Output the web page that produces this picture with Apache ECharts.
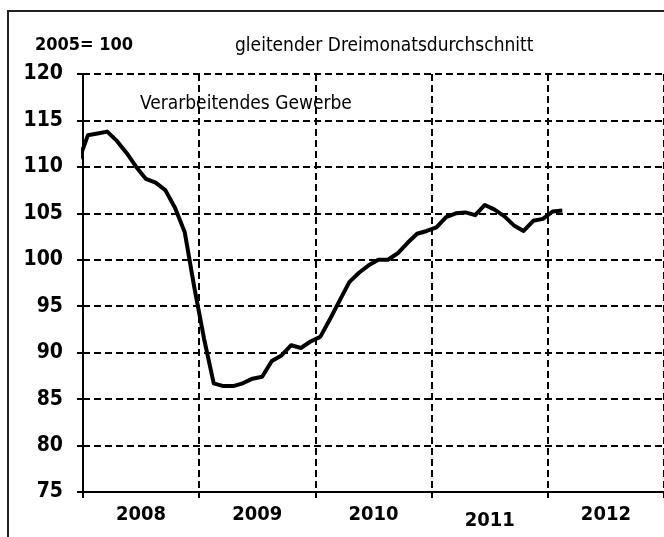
<!DOCTYPE html>
<html>
<head>
<meta charset="utf-8">
<script src="https://cdn.jsdelivr.net/npm/echarts@6/dist/echarts.min.js"></script>
<style>
  html, body { margin: 0; padding: 0; background: #fff; overflow: hidden; }
  #frame {
    position: absolute; left: 7px; top: 10px; width: 700px; height: 560px;
    border-left: 2px solid #222; border-top: 2px solid #222;
  }
  #chart { position: absolute; left: 0; top: 0; width: 664px; height: 537px; }
</style>
</head>
<body>
<div id="frame"></div>
<div id="chart"></div>
<script>
// Verarbeitendes Gewerbe, 2005 = 100, gleitender Dreimonatsdurchschnitt
// monthly values, first entry is Dec 2007 (only its segment into Jan 2008 is visible)
var firstMonth = -1; // month index relative to Jan 2008
var values = [
    110.5,
    113.4, 113.6, 113.8, 112.8, 111.5, 110.0, 108.7, 108.3, 107.5, 105.6, 103.0, 97.0,  // 2008
    91.5, 86.7, 86.4, 86.4, 86.7, 87.2, 87.4, 89.1, 89.7, 90.8, 90.5, 91.2,              // 2009
    91.7, 93.6, 95.6, 97.6, 98.6, 99.4, 100.0, 100.0, 100.7, 101.8, 102.8, 103.1,        // 2010
    103.5, 104.6, 105.0, 105.1, 104.8, 105.9, 105.4, 104.7, 103.7, 103.1, 104.2, 104.4,  // 2011
    105.2, 105.3                                                                         // 2012
];
var years = ['2008', '2009', '2010', '2011', '2012'];
var yMin = 75, yMax = 120, yStep = 5;

var font = '"Liberation Sans Narrow", "DejaVu Sans Condensed", sans-serif';
var dash = [7, 4];

var lineData = values.map(function (v, i) {
    return [firstMonth + i + 0.5, v];
});

var chart = echarts.init(document.getElementById('chart'));
chart.setOption({
    animation: false,
    backgroundColor: 'transparent',
    title: [
        { text: '2005= 100', left: 30, top: 31,
          textStyle: { fontFamily: font, fontSize: 18, fontWeight: 'bold', color: '#000' } },
        { text: 'gleitender Dreimonatsdurchschnitt', left: 230, top: 32,
          textStyle: { fontFamily: font, fontSize: 19, fontWeight: 'normal', color: '#000' } },
        { text: 'Verarbeitendes Gewerbe', left: 135, top: 90,
          textStyle: { fontFamily: font, fontSize: 19, fontWeight: 'normal', color: '#000' } }
    ],
    grid: { left: 83, top: 74, width: 582, height: 418 },
    xAxis: [
        {
            type: 'value', min: 0, max: years.length * 12, interval: 12,
            axisLine: { show: true, lineStyle: { color: '#000', width: 2 } },
            axisTick: { show: true, length: 6, lineStyle: { color: '#000', width: 2 } },
            axisLabel: { show: false },
            splitLine: { show: true, lineStyle: { color: '#000', width: 2, type: dash } }
        },
        {
            type: 'category', data: years.map(function (y) {
                return y === '2011' ? { value: y, textStyle: { padding: [6, 0, 0, 0] } } : y;
            }),
            position: 'bottom', boundaryGap: true,
            axisLine: { show: false }, axisTick: { show: false }, splitLine: { show: false },
            axisLabel: { margin: 13, fontFamily: font, fontSize: 20, fontWeight: 'bold', color: '#000' }
        }
    ],
    yAxis: {
        type: 'value', min: yMin, max: yMax, interval: yStep,
        axisLine: { show: true, lineStyle: { color: '#000', width: 2 } },
        axisTick: { show: true, length: 6, lineStyle: { color: '#000', width: 2 } },
        axisLabel: { margin: 20, fontFamily: font, fontSize: 21, fontWeight: 'bold', color: '#000' },
        splitLine: { show: true, lineStyle: { color: '#000', width: 2, type: dash } }
    },
    series: [{
        type: 'line', xAxisIndex: 0, data: lineData, clip: true,
        showSymbol: false, symbol: 'none',
        lineStyle: { color: '#000', width: 4, join: 'round' }
    }]
});
</script>
</body>
</html>
